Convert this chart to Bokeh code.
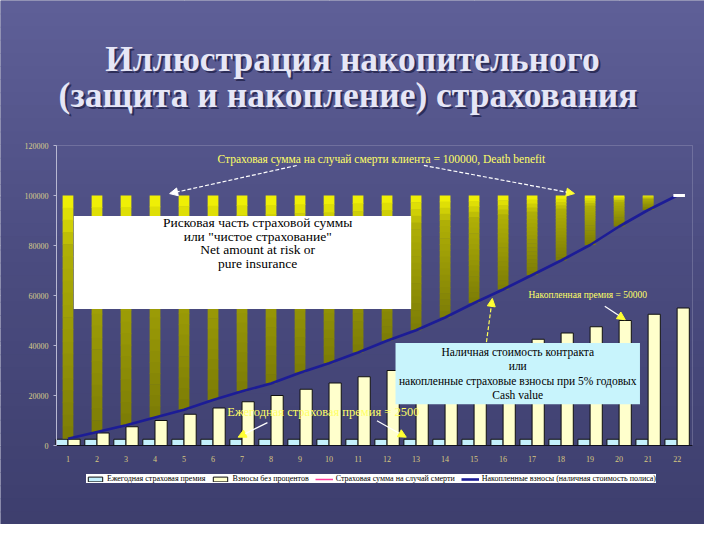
from bokeh.plotting import figure
from bokeh.models import (Range1d, FixedTicker, Label, BoxAnnotation, Arrow,
                          NormalHead, Legend, LegendItem, LinearAxis)
from bokeh.embed import file_html
from bokeh.resources import INLINE

# ---------------- data ----------------
years = list(range(1, 23))
annual_premium = [2500] * 22
premiums_no_interest = [2500, 5000, 7500, 10000, 12500, 15000, 17500, 20000, 22500, 25000, 27500,
                        30000, 32500, 35000, 37500, 40000, 42500, 45000, 47500, 50000, 52500, 55000]
cash_value = [2700, 5400, 8100, 11200, 14300, 18200, 21700, 24800, 29100, 32900, 37200,
              41900, 46100, 51200, 57000, 62400, 68200, 74000, 80200, 87600, 94200, 100000]
death_benefit = [100000] * 22
y_ticks = [0, 20000, 40000, 60000, 80000, 100000, 120000]
y_tick_labels = ["0", "20000", "40000", "60000", "80000", "100000", "120000"]
x_tick_labels = [str(y) for y in years]

title_lines = ["Иллюстрация накопительного", "(защита и накопление)  страхования"]
legend_labels = ["Ежегодная страховая премия", "Взносы без процентов",
                 "Страховая сумма на случай смерти",
                 "Накопленные взносы (наличная стоимость полиса)"]

# ---------------- geometry ----------------
W, H = 704, 524
SX, SY = W / 720.0, H / 540.0
FL, FR, FT, FB = 56, 692, 145, 445          # plot-area edges in figure pixels
X0, X1 = 0.604, 22.53                         # x span of plot area
YMAX = 120000
PPU = (FR - FL) / (X1 - X0)                   # pixels per year
UPP = YMAX / (FB - FT)                        # value units per pixel

# the frame covers the whole canvas; the plot area is a sub-region of it
p = figure(width=W, height=H, output_backend="svg", toolbar_location=None,
           x_range=Range1d(X0 - FL / PPU, X1 + (W - FR) / PPU),
           y_range=Range1d(-(H - FB) * UPP, YMAX + FT * UPP),
           x_axis_location=None, y_axis_location=None,
           min_border=0)
p.background_fill_color = "#4b4c80"
p.border_fill_color = "#4b4c80"
p.outline_line_color = None
p.title.visible = False

FONT = "Liberation Serif"

def FX(fx):          # figure px -> data x
    return X0 + (fx - FL) / PPU

def FY(fy):          # figure px -> data y
    return (FB - fy) * UPP

def X(px):           # reference px -> data x
    return FX(px * SX)

def Y(py):           # reference px -> data y
    return FY(py * SY)

# slide background: vertical gradient (lighter at top)
stops = [(0, (0x5f, 0x60, 0x98)), (0.5, (0x4b, 0x4c, 0x80)), (1.0, (0x3e, 0x3f, 0x6e))]
def grad(t):
    for (t0, c0), (t1, c1) in zip(stops[:-1], stops[1:]):
        if t <= t1:
            u = (t - t0) / (t1 - t0)
            return "#%02x%02x%02x" % tuple(int(a + (b - a) * u) for a, b in zip(c0, c1))
    return "#%02x%02x%02x" % stops[-1][1]

NB = 40
for i in range(NB):
    top_px, bot_px = H * i / NB, H * (i + 1) / NB + 1
    p.add_layout(BoxAnnotation(top=FY(top_px), bottom=FY(bot_px), fill_color=grad((i + 0.5) / NB),
                               fill_alpha=1, line_color=None, level="underlay"))

# plot-area border (light top/right edge)
p.add_layout(BoxAnnotation(left=X0, right=X1, bottom=0, top=YMAX, fill_alpha=0,
                           line_color="#b4b4cc", line_width=1, level="underlay"))

# axes placed at fixed locations inside the canvas
yaxis = LinearAxis(fixed_location=X0, bounds=(0, YMAX))
yaxis.ticker = FixedTicker(ticks=y_ticks)
yaxis.major_label_overrides = {t: l for t, l in zip(y_ticks, y_tick_labels)}
yaxis.major_label_text_font = FONT
yaxis.major_label_text_font_size = "8px"
yaxis.major_label_text_color = "#d8cc8a"
yaxis.axis_line_color = "#b8b8d2"
yaxis.major_tick_line_color = "#b8b8d2"
yaxis.major_tick_out = 3
yaxis.major_tick_in = 0
yaxis.minor_tick_line_color = None
p.add_layout(yaxis, "left")

xaxis = LinearAxis(fixed_location=0, bounds=(X0, X1))
xaxis.ticker = FixedTicker(ticks=years)
xaxis.major_label_overrides = {y: l for y, l in zip(years, x_tick_labels)}
xaxis.major_label_text_font = FONT
xaxis.major_label_text_font_size = "8px"
xaxis.major_label_text_color = "#d8c880"
xaxis.axis_line_color = "#101020"
xaxis.major_tick_line_color = None
xaxis.minor_tick_line_color = None
xaxis.major_label_standoff = 4
p.add_layout(xaxis, "below")

# ---------------- bars ----------------
r_cyan = p.vbar(x=[y - 0.21 for y in years], top=annual_premium, width=0.42, bottom=0,
                fill_color="#c4f0fc", line_color="#101010", line_width=1)
r_cream = p.vbar(x=[y + 0.21 for y in years], top=premiums_no_interest, width=0.42, bottom=0,
                 fill_color="#ffffcc", line_color="#101010", line_width=1)

# net amount at risk bars (cash value -> death benefit), gradient yellow -> olive
nseg = 20
seg_x, seg_b, seg_t, seg_c = [], [], [], []
for x, b, t in zip(years, cash_value, death_benefit):
    if t - b <= 0:
        continue
    h = (t - b) / nseg
    for k in range(nseg):
        f = (k + 0.5) / nseg
        if f < 0.22:
            c = 248 - (248 - 176) * (f / 0.22)
        else:
            c = 176 - (176 - 124) * ((f - 0.22) / 0.78)
        c = int(c)
        seg_x.append(x)
        seg_t.append(t - k * h)
        seg_b.append(max(b, t - (k + 1) * h - 250))
        seg_c.append("#%02x%02x%02x" % (c, c, 6))
p.vbar(x=seg_x, top=seg_t, bottom=seg_b, width=0.37, fill_color=seg_c, line_color=None)

# lines
r_pink = p.line(years, death_benefit, line_color="#ff3b9a", line_width=1.5, visible=False)
r_blue = p.line(years, cash_value, line_color="#1c1c96", line_width=2.6)
p.segment(x0=[years[-1] - 0.13], y0=[death_benefit[-1]], x1=[years[-1] + 0.27],
          y1=[death_benefit[-1]], line_color="white", line_width=3)

# ---------------- boxes ----------------
p.add_layout(BoxAnnotation(left=X(75), right=X(420), top=Y(222), bottom=Y(318),
                           fill_color="white", fill_alpha=1, line_color=None))
p.add_layout(BoxAnnotation(left=X(404), right=X(654), top=Y(353), bottom=Y(416),
                           fill_color="#c8f4fc", fill_alpha=1, line_color=None))

def text(x, y, s, size, color, align="center", baseline="middle", bold=False):
    p.add_layout(Label(x=x, y=y, text=s, text_font=FONT,
                       text_font_size=size, text_color=color, text_align=align,
                       text_baseline=baseline,
                       text_font_style="bold" if bold else "normal"))

# title with shadow
for s, fy in zip(title_lines, [58, 94]):
    text(FX(354), FY(fy + 2), s, "35.5px", "#2c2d58", baseline="alphabetic", bold=True)
    text(FX(352), FY(fy), s, "35.5px", "#e6e6f6", baseline="alphabetic", bold=True)

# white box text
for s, py in zip(["Рисковая часть страховой суммы", "или \"чистое страхование\"",
                  "Net amount at risk or", "pure insurance"], [229, 243, 257, 271]):
    text(X(263), Y(py), s, "13.5px", "#000000")

# cyan box text
for s, py in zip(["Наличная стоимость контракта", "или",
                  "накопленные страховые взносы при 5% годовых", "Cash value"],
                 [362, 377, 392, 407]):
    text(X(529), Y(py), s, "11.5px", "#000000")

YEL = "#ffff66"
text(X(222), Y(163), "Страховая сумма на случай смерти клиента = 100000, Death benefit", "11.5px", YEL, align="left")
text(X(540), Y(303), "Накопленная премия = 50000", "9.5px", YEL, align="left")
text(X(232), Y(424), "Ежегодная страховая премия = 2500", "12.5px", YEL, align="left")

# arrows
def arrow(x0, y0, x1, y1, line_color, head_color, dash="solid"):
    p.add_layout(Arrow(end=NormalHead(size=8, fill_color=head_color, line_color=head_color),
                       x_start=X(x0), y_start=Y(y0), x_end=X(x1), y_end=Y(y1),
                       line_color=line_color, line_width=1.2, line_dash=dash))

arrow(303, 170, 173, 199, "white", "white", "4 2")
arrow(433, 170, 587, 199, "white", "#ffff33", "4 2")
arrow(618, 315, 639, 329, "white", "#ffff33")
arrow(497, 352, 503, 307, "#ffff55", "#ffff33", "4 2")
arrow(273, 435, 243, 450, "white", "#ffff33")
arrow(385, 433, 415, 450, "white", "#ffff33")

# ---------------- legend ----------------
legend = Legend(items=[LegendItem(label=legend_labels[0], renderers=[r_cyan]),
                       LegendItem(label=legend_labels[1], renderers=[r_cream]),
                       LegendItem(label=legend_labels[2], renderers=[r_pink]),
                       LegendItem(label=legend_labels[3], renderers=[r_blue])],
                orientation="horizontal", location=(round(88 * SX), round(H - 498 * SY)),
                background_fill_color="white", background_fill_alpha=1,
                border_line_color=None, label_text_font=FONT,
                label_text_font_size="8px", label_text_color="#000000",
                glyph_width=18, glyph_height=6, label_standoff=3, spacing=6,
                padding=2, margin=0, label_height=9)
p.add_layout(legend, "center")

open("out.html", "w").write(file_html(p, INLINE))
